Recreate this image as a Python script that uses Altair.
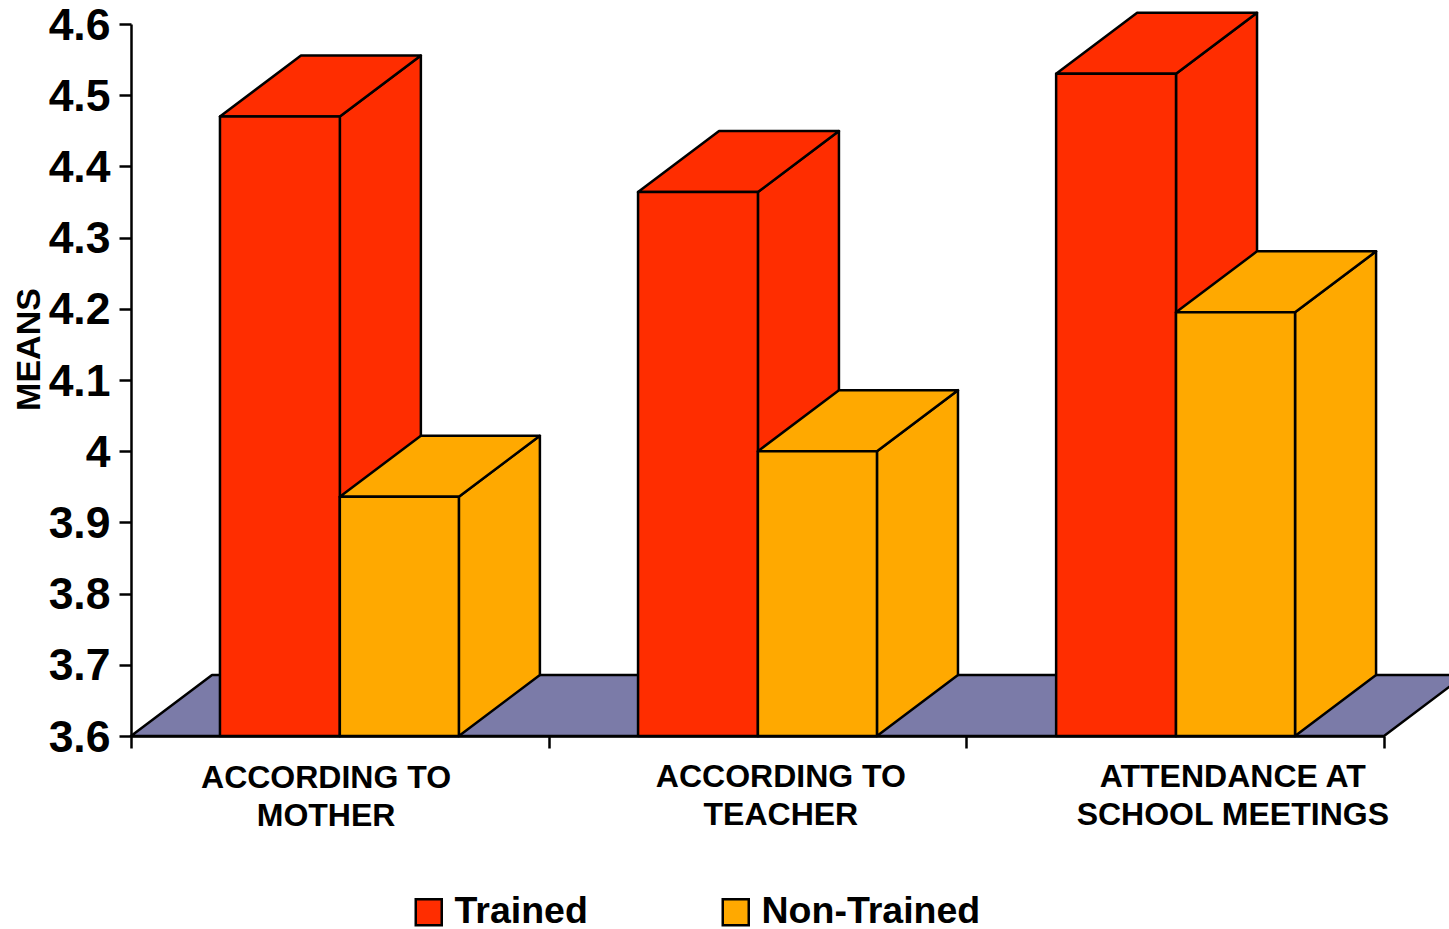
import altair as alt
import pandas as pd

# Mean scores per measure and training group
categories = ["ACCORDING TO\nMOTHER", "ACCORDING TO\nTEACHER", "ATTENDANCE AT\nSCHOOL MEETINGS"]
trained = [4.47, 4.364, 4.53]
non_trained = [3.936, 4.0, 4.195]

# Horizontal extents of the bars, in category units along the x axis
trained_left = [0.213, 1.214, 2.215]
trained_right = [0.5, 1.501, 2.502]
non_trained_right = [0.785, 1.786, 2.787]

# Label anchors in category units
label_x = [0.467, 1.556, 2.638]
label_y = [3.5415, 3.543, 3.543]
y_ticks = [3.6, 3.7, 3.8, 3.9, 4.0, 4.1, 4.2, 4.3, 4.4, 4.5, 4.6]
x_ticks = [0, 1, 2, 3]

# Oblique projection offsets for the third dimension
depth_x = 0.194
depth_y = 0.0857
base = 3.6

RED = "#ff2d00"
ORANGE = "#ffa900"
FLOOR = "#7b7ba8"
FONT = "Liberation Sans"
EDGE = {"stroke": "black", "strokeWidth": 2.5, "strokeJoin": "round", "opacity": 1}


def fronts(series, lefts, rights, values):
    return pd.DataFrame({"series": series, "x0": lefts, "x1": rights, "top": values, "bottom": base})


def sides(series, rights, values):
    rows = []
    for i, (r, v) in enumerate(zip(rights, values)):
        rows.append({"series": series, "bar": i, "x": r, "top": v, "bottom": base})
        rows.append({"series": series, "bar": i, "x": r + depth_x, "top": v + depth_y, "bottom": base + depth_y})
    return pd.DataFrame(rows)


def tops(series, lefts, rights, values):
    rows = []
    for i, (l, r, v) in enumerate(zip(lefts, rights, values)):
        rows.append({"series": series, "bar": i, "y": v, "x0": l, "x1": r})
        rows.append({"series": series, "bar": i, "y": v + depth_y, "x0": l + depth_x, "x1": r + depth_x})
    return pd.DataFrame(rows)


x_scale = alt.Scale(domain=[0, 3], nice=False, zero=False)
y_scale = alt.Scale(domain=[3.6, 4.6], nice=False, zero=False)

# Every layer shares one definition per axis so they merge into a single axis
x_axis = alt.Axis(
    values=x_ticks, labels=False, title=None, grid=False, tickSize=12, tickWidth=2.5,
    tickColor="black", domainColor="black", domainWidth=2.5,
)
y_axis = alt.Axis(
    values=y_ticks, format="~g", grid=False, tickSize=12, tickWidth=2.5,
    tickColor="black", domainColor="black", domainWidth=2.5,
    labelFont=FONT, labelFontSize=44.5, labelFontWeight="bold", labelColor="black",
    labelPadding=9, labelOffset=2, title="MEANS", titleFont=FONT, titleFontSize=34,
    titleFontWeight="bold", titleColor="black", titleX=-85, titleY=325, titleAngle=270,
    titleAlign="center", titleBaseline="bottom",
)

color_scale = alt.Scale(domain=["Trained", "Non-Trained"], range=[RED, ORANGE])
color = alt.Color(
    "series:N",
    scale=color_scale,
    sort=["Trained", "Non-Trained"],
    legend=alt.Legend(
        title=None,
        orient="none",
        direction="horizontal",
        columns=2,
        legendX=279,
        legendY=869,
        symbolType="square",
        symbolSize=676,
        symbolStrokeColor="black",
        symbolStrokeWidth=2.5,
        symbolOpacity=1,
        labelFont=FONT,
        labelFontSize=37.5,
        labelFontWeight="bold",
        labelColor="black",
        labelOffset=7,
        labelLimit=400,
        columnPadding=129,
        padding=0,
    ),
)


def series_layers(series, lefts, rights, values):
    side = alt.Chart(sides(series, rights, values)).mark_area(
        interpolate="linear", **EDGE
    ).encode(
        x=alt.X("x:Q", scale=x_scale, axis=x_axis),
        y=alt.Y("top:Q", scale=y_scale, stack=None, axis=y_axis),
        y2="bottom:Q",
        color=color,
        detail="bar:N",
    )
    top = alt.Chart(tops(series, lefts, rights, values)).mark_area(
        interpolate="linear", orient="horizontal", **EDGE
    ).encode(
        y=alt.Y("y:Q", scale=y_scale, axis=y_axis),
        x=alt.X("x0:Q", scale=x_scale, stack=None, axis=x_axis),
        x2="x1:Q",
        color=color,
        detail="bar:N",
    )
    front = alt.Chart(fronts(series, lefts, rights, values)).mark_rect(**EDGE).encode(
        x=alt.X("x0:Q", scale=x_scale, axis=x_axis),
        x2="x1:Q",
        y=alt.Y("top:Q", scale=y_scale, axis=y_axis),
        y2="bottom:Q",
        color=color,
    )
    return [side, top, front]


floor_frame = pd.DataFrame(
    {"y": [base, base + depth_y], "x0": [0.0, depth_x], "x1": [3.0, 3.0 + depth_x]}
)
floor = alt.Chart(floor_frame).mark_area(
    interpolate="linear", orient="horizontal", fill=FLOOR, **EDGE
).encode(
    y=alt.Y("y:Q", scale=y_scale, axis=y_axis),
    x=alt.X("x0:Q", scale=x_scale, stack=None, axis=x_axis),
    x2="x1:Q",
)

labels = alt.Chart(pd.DataFrame({"x": label_x, "y": label_y, "label": categories})).mark_text(
    font=FONT, fontSize=32, fontWeight="bold", color="black", lineBreak="\n", lineHeight=38,
    align="center", baseline="middle",
).encode(
    x=alt.X("x:Q", scale=x_scale, axis=x_axis),
    y=alt.Y("y:Q", scale=y_scale, axis=y_axis),
    text="label:N",
)

chart = alt.layer(
    floor,
    *series_layers("Trained", trained_left, trained_right, trained),
    *series_layers("Non-Trained", trained_right, non_trained_right, non_trained),
    labels,
).properties(
    width=1253,
    height=712,
    autosize=alt.AutoSizeParams(type="none"),
    padding={"left": 131, "top": 24, "right": 65, "bottom": 193},
    background="white",
).configure_view(stroke=None)

chart.save("out.html", embed_options={"renderer": "svg", "actions": False})
